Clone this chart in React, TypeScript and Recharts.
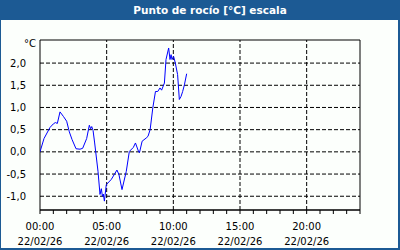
import React from "react";
import { LineChart, Line, XAxis, YAxis, ReferenceLine, ReferenceArea } from "recharts";

const hours = [0, 0.3, 0.75, 1.0, 1.15, 1.3, 1.5, 1.75, 2.0, 2.2, 2.4, 2.7, 3.0, 3.2, 3.5, 3.7, 3.8, 3.88, 3.98, 4.1, 4.35, 4.5, 4.6, 4.68, 4.75, 4.83, 4.97, 5.35, 5.77, 5.92, 6.15, 6.47, 6.7, 7.0, 7.16, 7.4, 7.46, 7.66, 7.96, 8.1, 8.26, 8.46, 8.66, 8.83, 9.0, 9.12, 9.33, 9.45, 9.65, 9.75, 9.83, 9.9, 10.02, 10.15, 10.32, 10.45, 10.58, 10.7, 10.83, 11.0];
const dewPoint = [0.0, 0.3, 0.55, 0.63, 0.66, 0.64, 0.9, 0.8, 0.69, 0.45, 0.28, 0.07, 0.06, 0.08, 0.3, 0.6, 0.52, 0.57, 0.48, 0.2, -0.44, -0.96, -0.83, -1.0, -0.95, -1.11, -0.74, -0.62, -0.41, -0.51, -0.85, -0.44, 0.01, 0.1, 0.2, 0.0, -0.02, 0.24, 0.31, 0.35, 0.5, 0.99, 1.36, 1.36, 1.44, 1.39, 1.55, 2.08, 2.34, 2.08, 2.19, 2.08, 2.15, 2.0, 1.74, 1.18, 1.25, 1.36, 1.51, 1.76];

const xTicks = [0, 1, 2, 3, 4, 5, 6, 7, 8, 9, 10, 11, 12, 13, 14, 15, 16, 17, 18, 19, 20, 21, 22, 23, 24];
const xLabels: Record<number, string> = { 0: "00:00", 5: "05:00", 10: "10:00", 15: "15:00", 20: "20:00" };
const dateLabel = "22/02/26";
const yTicks = [-1, -0.5, 0, 0.5, 1, 1.5, 2];
const gridX = [5, 10, 15, 20];
const title = "Punto de rocío [°C] escala";
const unit = "°C";

const data = hours.map((h, i) => ({ h, v: dewPoint[i] }));

const FONT = "DejaVu Sans";

const XTick = (props: any) => {
  const { x, y, payload } = props;
  const lbl = xLabels[payload.value];
  if (!lbl) return null;
  return (
    <g>
      <text x={x} y={y + 14} textAnchor="middle" fontFamily={FONT} fontSize={10} fill="#000">{lbl}</text>
      <text x={x} y={y + 29} textAnchor="middle" fontFamily={FONT} fontSize={10} fill="#000">{dateLabel}</text>
    </g>
  );
};

export default function App() {
  return (
    <div style={{ position: "fixed", left: 0, top: 0, width: 400, height: 250, background: "#1c5a94", overflow: "hidden" }}>
      <div style={{ position: "absolute", left: 0, top: 0, width: 420, height: 20, color: "#fff", fontFamily: FONT, fontWeight: "bold", fontSize: 10.5, lineHeight: "20px", textAlign: "center" }}>{title}</div>
      <div style={{ position: "absolute", left: 1, top: 20, width: 397, height: 228, background: "#fcfffc" }} />
      <div style={{ position: "absolute", left: 24, top: 38, fontFamily: FONT, fontSize: 10, color: "#000" }}>{unit}</div>
      <div style={{ position: "absolute", left: 0, top: 0 }}>
        <LineChart width={400} height={250} data={data} margin={{ top: 40, right: 40, bottom: 0, left: 0 }}>
          <XAxis dataKey="h" type="number" domain={[0, 24]} ticks={xTicks} interval={0} height={40} tick={<XTick />} tickSize={4} tickLine={{ stroke: "#000" }} axisLine={{ stroke: "#000" }} allowDataOverflow />
          <YAxis type="number" domain={[-1.31, 2.52]} ticks={yTicks} width={40} axisLine={false} tickLine={false} tickMargin={8} allowDataOverflow
            tickFormatter={(v: number) => v.toFixed(1).replace(".", ",")}
            tick={{ fontFamily: FONT, fontSize: 10, fill: "#000" }} />
          {yTicks.map((t) => (
            <ReferenceLine key={"y" + t} y={t} stroke="#000" strokeDasharray="4 2" />
          ))}
          {gridX.map((t) => (
            <ReferenceLine key={"x" + t} x={t} stroke="#000" strokeDasharray="4 2" />
          ))}
          <ReferenceArea x1={0} x2={24} y1={-1.31} y2={2.52} fill="none" stroke="#000" strokeWidth={1} />
          <Line type="linear" dataKey="v" stroke="#0000ff" strokeWidth={1} dot={false} isAnimationActive={false} />
        </LineChart>
      </div>
    </div>
  );
}
